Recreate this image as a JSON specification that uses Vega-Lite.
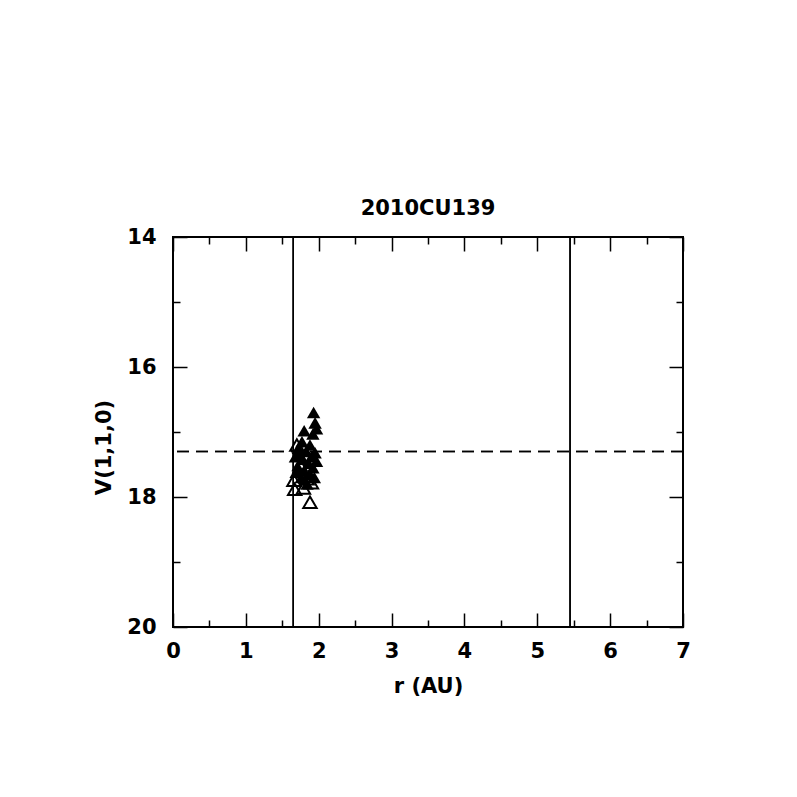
{
  "$schema": "https://vega.github.io/schema/vega-lite/v6.json",
  "width": 510,
  "height": 390,
  "autosize": "none",
  "padding": {"left": 173, "top": 237, "right": 114, "bottom": 170},
  "background": "white",
  "config": {
    "view": {"stroke": "black", "strokeWidth": 2},
    "axis": {
      "domain": false, "grid": false, "labelFlush": false,
      "tickColor": "black", "tickWidth": 1.5,
      "labelColor": "black", "titleColor": "black",
      "labelFont": "DejaVu Sans", "titleFont": "DejaVu Sans",
      "labelFontSize": 21, "labelFontWeight": "bold", "titleFontSize": 21, "titleFontWeight": "bold"
    }
  },
  "title": {"text": "2010CU139", "font": "DejaVu Sans", "fontSize": 21, "fontWeight": "bold", "color": "black", "offset": 7},
  "datasets": {
    "filled": [
      {"r": 1.93, "V": 16.7}, {"r": 1.95, "V": 16.86}, {"r": 1.97, "V": 16.95},
      {"r": 1.80, "V": 16.98}, {"r": 1.92, "V": 17.03}, {"r": 1.77, "V": 17.15},
      {"r": 1.88, "V": 17.2}, {"r": 1.72, "V": 17.25}, {"r": 1.83, "V": 17.3},
      {"r": 1.95, "V": 17.32}, {"r": 1.68, "V": 17.38}, {"r": 1.78, "V": 17.42},
      {"r": 1.97, "V": 17.45}, {"r": 1.86, "V": 17.48}, {"r": 1.72, "V": 17.55},
      {"r": 1.92, "V": 17.55}, {"r": 1.80, "V": 17.6}, {"r": 1.69, "V": 17.62},
      {"r": 1.88, "V": 17.65}, {"r": 1.76, "V": 17.7}, {"r": 1.94, "V": 17.7},
      {"r": 1.84, "V": 17.8}, {"r": 1.90, "V": 17.38}, {"r": 1.74, "V": 17.35}
    ],
    "open": [
      {"r": 1.66, "V": 17.74}, {"r": 1.67, "V": 17.88}, {"r": 1.79, "V": 17.86},
      {"r": 1.88, "V": 18.08}, {"r": 1.84, "V": 17.72}, {"r": 1.74, "V": 17.5},
      {"r": 1.70, "V": 17.2}, {"r": 1.90, "V": 17.78}
    ],
    "hline": [{"V": 17.3}],
    "vlines": [{"r": 1.65}, {"r": 5.45}]
  },
  "layer": [
    {
      "data": {"name": "filled"},
      "mark": {"type": "point", "shape": "triangle-up", "filled": true, "color": "black", "size": 180, "opacity": 1},
      "encoding": {
        "x": {"field": "r", "type": "quantitative", "scale": {"domain": [0, 7], "nice": false, "zero": false},
              "axis": {"orient": "bottom", "values": [0, 1, 2, 3, 4, 5, 6, 7], "format": "d", "tickSize": -14, "labelPadding": 27, "title": "r (AU)", "titlePadding": 14}},
        "y": {"field": "V", "type": "quantitative", "scale": {"domain": [14, 20], "nice": false, "zero": false, "reverse": true},
              "axis": {"orient": "left", "values": [14, 16, 18, 20], "format": "d", "tickSize": -14, "labelPadding": 31, "title": "V(1,1,0)", "titlePadding": 12, "titleY": 210}}
      }
    },
    {
      "data": {"name": "open"},
      "mark": {"type": "point", "shape": "triangle-up", "filled": false, "color": "black", "size": 180, "strokeWidth": 2, "opacity": 1},
      "encoding": {
        "x": {"field": "r", "type": "quantitative",
              "axis": {"orient": "top", "values": [0, 1, 2, 3, 4, 5, 6, 7], "tickSize": -14, "labels": false, "title": null}},
        "y": {"field": "V", "type": "quantitative",
              "axis": {"orient": "right", "values": [14, 16, 18, 20], "tickSize": -14, "labels": false, "title": null}}
      }
    },
    {
      "data": {"name": "hline"},
      "mark": {"type": "rule", "color": "black", "strokeWidth": 1.5, "strokeDash": [12, 7]},
      "encoding": {
        "y": {"field": "V", "type": "quantitative",
              "axis": {"orient": "left", "values": [15, 17, 19], "tickSize": -7, "labels": false, "title": null}}
      }
    },
    {
      "data": {"name": "vlines"},
      "mark": {"type": "rule", "color": "black", "strokeWidth": 1.5},
      "encoding": {
        "x": {"field": "r", "type": "quantitative",
              "axis": {"orient": "bottom", "values": [0.5, 1.5, 2.5, 3.5, 4.5, 5.5, 6.5], "tickSize": -7, "labels": false, "title": null}}
      }
    },
    {
      "data": {"name": "vlines"},
      "mark": {"type": "rule", "color": "black", "strokeWidth": 1.5},
      "encoding": {
        "x": {"field": "r", "type": "quantitative",
              "axis": {"orient": "top", "values": [0.5, 1.5, 2.5, 3.5, 4.5, 5.5, 6.5], "tickSize": -7, "labels": false, "title": null}}
      }
    },
    {
      "data": {"name": "hline"},
      "mark": {"type": "rule", "color": "black", "strokeWidth": 1.5, "strokeDash": [12, 7]},
      "encoding": {
        "y": {"field": "V", "type": "quantitative",
              "axis": {"orient": "right", "values": [15, 17, 19], "tickSize": -7, "labels": false, "title": null}}
      }
    }
  ],
  "resolve": {"axis": {"x": "independent", "y": "independent"}}
}
